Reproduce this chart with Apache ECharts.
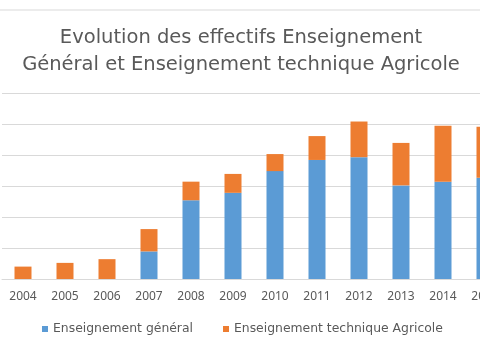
<!DOCTYPE html>
<html><head><meta charset="utf-8">
<script src="https://cdn.jsdelivr.net/npm/echarts@6/dist/echarts.min.js"></script>
<style>html,body{margin:0;padding:0;background:#fff;overflow:hidden;width:480px;height:360px}#c{width:506px;height:360px}</style>
</head><body><div id="c"></div>
<script>
var years = ['2004','2005','2006','2007','2008','2009','2010','2011','2012','2013','2014','2015'];
var general = [0, 0, 0, 890, 2540, 2780, 3480, 3840, 3930, 3020, 3140, 3270];
var agricole = [400, 520, 640, 720, 600, 610, 550, 770, 1150, 1370, 1800, 1640];
var yMax = 6000, yStep = 1000;
var chart = echarts.init(document.getElementById('c'));
var font = 'DejaVu Sans';
chart.setOption({
  animation: false,
  title: {
    text: 'Evolution des effectifs Enseignement\nGénéral et Enseignement technique Agricole',
    left: 236, textAlign: 'center', top: 19,
    textStyle: {fontFamily: font, fontSize: 19.5, fontWeight: 'normal', color: '#595959', lineHeight: 27}
  },
  graphic: [{type: 'line', shape: {x1: 0, y1: 10, x2: 480, y2: 10}, style: {stroke: '#d9d9d9', lineWidth: 1}}],
  legend: {
    top: 318, left: 37, itemWidth: 6, itemHeight: 6, itemGap: 30, icon: 'rect',
    textStyle: {fontFamily: font, fontSize: 12.4, color: '#595959'},
    data: ['Enseignement général', 'Enseignement technique Agricole']
  },
  grid: {left: 2, top: 93, right: 0, height: 186, containLabel: false},
  xAxis: {
    type: 'category', data: years,
    axisLine: {lineStyle: {color: '#d9d9d9'}}, axisTick: {show: false},
    axisLabel: {fontFamily: 'Noto Sans', fontSize: 12, color: '#595959', margin: 12}
  },
  yAxis: {
    type: 'value', min: 0, max: yMax, interval: yStep,
    axisLabel: {show: false}, axisLine: {show: false}, axisTick: {show: false},
    splitLine: {lineStyle: {color: '#d9d9d9', width: 1}}
  },
  series: [
    {name: 'Enseignement général', type: 'bar', stack: 't', data: general, barWidth: 17,
     itemStyle: {color: '#5B9BD5'}},
    {name: 'Enseignement technique Agricole', type: 'bar', stack: 't', data: agricole, barWidth: 17,
     itemStyle: {color: '#ED7D31'}}
  ]
});
</script></body></html>
